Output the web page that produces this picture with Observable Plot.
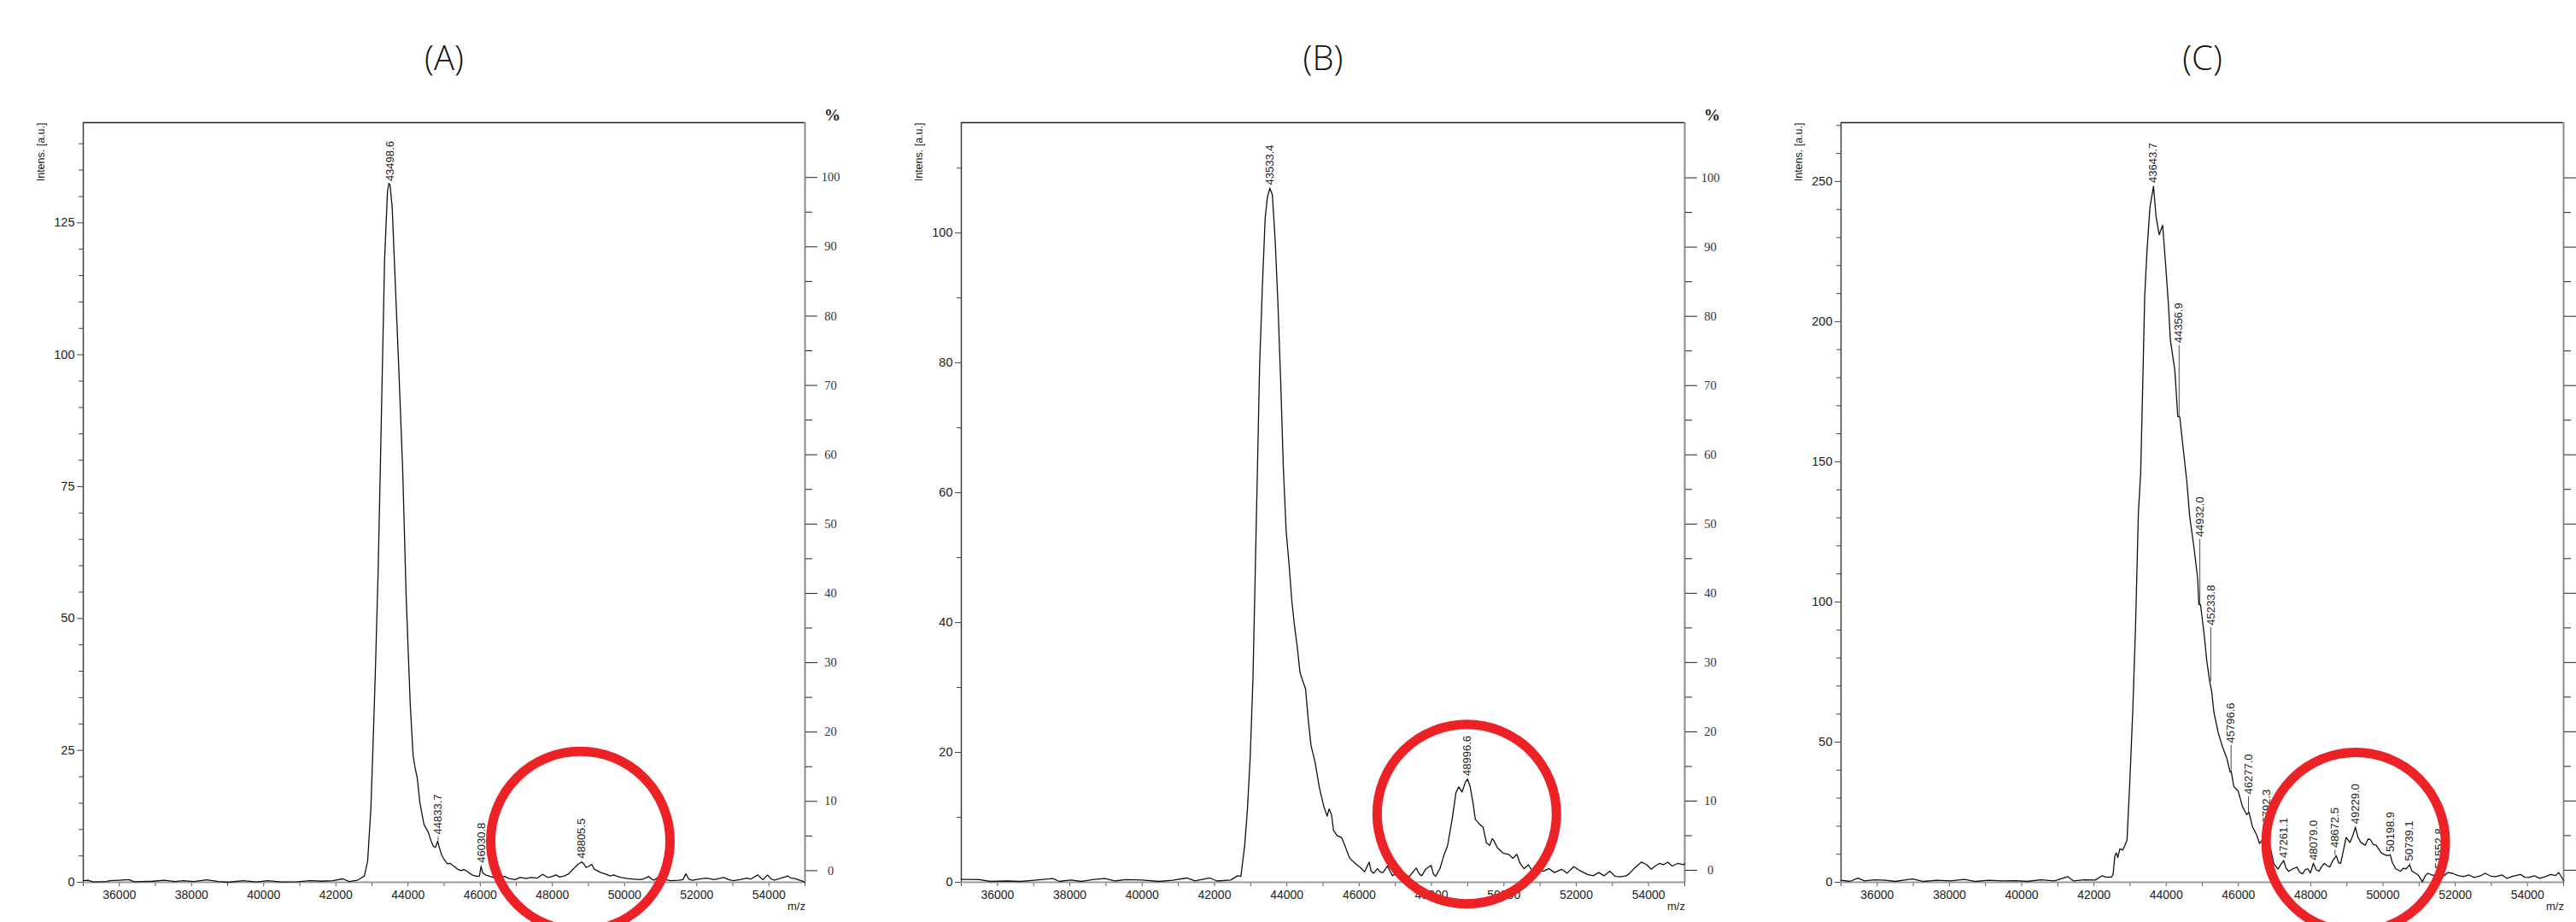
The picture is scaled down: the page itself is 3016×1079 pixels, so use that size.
<!DOCTYPE html>
<html><head><meta charset="utf-8">
<script src="https://cdn.jsdelivr.net/npm/d3@7"></script>
<script src="https://cdn.jsdelivr.net/npm/@observablehq/plot@0.6"></script>
<style>
html,body{margin:0;padding:0;background:#fff}
body{width:3016px;height:1079px;overflow:hidden;position:relative}
.panel{position:absolute;top:0}
</style></head><body>
<div id="pA" class="panel" style="left:0px"></div>
<div id="pB" class="panel" style="left:1030px"></div>
<div id="pC" class="panel" style="left:2060px"></div>
<script>
// ---------- shared text / ticks ----------
const panelTitles = ["(A)", "(B)", "(C)"];
const yAxisLabel = "Intens. [a.u.]";
const xAxisLabel = "m/z";
const pctSymbol = "%";
const xDomain = [35000, 55000];
const xTicks = d3.range(35000, 55001, 1000);
const pctMajor = [0, 10, 20, 30, 40, 50, 60, 70, 80, 90, 100];
const pctMinor = [5, 15, 25, 35, 45, 55, 65, 75, 85, 95];

// ---------- panel A ----------
const mzA = [35000,35125,35275,35650,35730,36000,36260,36410,36630,36940,37240,37540,37770,38070,38420,38750,39020,39430,39800,40110,40480,40935,41280,41620,41920,42190,42370,42600,42700,42790,42880,42970,43030,43090,43170,43230,43275,43350,43430,43470,43500,43560,43650,43740,43850,43950,44060,44140,44200,44250,44330,44440,44560,44630,44700,44760,44820,44870,44936,45000,45087,45160,45240,45390,45470,45540,45616,45766,45917,45980,46023,46070,46143,46370,46550,46670,46800,46970,47100,47270,47400,47580,47730,47880,48000,48100,48200,48330,48450,48560,48710,48810,48870,48935,49000,49090,49160,49240,49350,49460,49600,49700,49770,49900,50070,50250,50450,50580,50670,50750,50820,50900,51000,51120,51280,51500,51620,51700,51780,51880,52050,52260,52480,52620,52750,52880,53010,53200,53390,53500,53690,53780,53840,53960,54050,54140,54300,54440,54520,54600,54720,54850,54900,55000];
const intA = [0.3,0.4,0.05,0.15,0.3,0.4,0.5,0.1,0.15,0.2,0.4,0.15,0.3,0.15,0.45,0.15,0,0.3,0.05,0.3,0.05,0.1,0.3,0.2,0.3,0.65,0.15,0.4,0.8,1.2,4,14,26,39,58.6,78,93,118,131,132.5,132.2,128,113,98,78.5,53.7,33.8,24,21.5,20,15,11,9.5,8,6.8,6.6,7.8,6.5,5.1,4.3,3.5,3.6,3.2,2.4,2.2,2.4,2.2,1.4,1.1,1.2,3.0,1.8,1.4,0.9,1.0,1.1,0.7,0.5,0.9,0.7,0.9,0.8,1.5,0.9,1.1,1.4,1.0,1.2,1.6,2.4,3.4,3.8,3.5,2.8,3.0,3.4,2.5,2.2,1.8,1.6,1.2,1.4,1.2,0.9,0.7,0.6,0.5,0.8,1.1,0.6,0.4,0.8,1.1,0.5,0.3,0.4,0.5,1.6,0.6,0.4,0.6,0.8,0.5,0.7,0.9,0.5,0.3,0.5,0.8,0.6,1.4,0.8,0.5,1.4,0.7,0.4,0.7,1.0,1.2,0.8,0.7,0.4,0.3,0];
const peakTextA = ["43498.6", "44833.7", "46030.8", "48805.5"];
const peakLabelYA = [132.4, 8.6, 3.2, 4.0];
const peakPointYA = [132.4, 7.8, 3.0, 3.8];
const yMaxA = 144, yMajorA = [0, 25, 50, 75, 100, 125], yMinorStepA = 5;
const pctRangeA = [2.2, 133.6];
const circleA = [{mz: 48775, v: 7.8}];

// ---------- panel B ----------
const mzB = [35000,35040,35500,35800,36260,36640,37020,37530,37710,38020,38320,38630,38970,39240,39550,40000,40460,40850,41230,41460,41870,42070,42450,42640,42730,42835,42911,42988,43064,43125,43187,43248,43324,43401,43462,43530,43599,43676,43752,43829,43905,43982,44058,44135,44211,44287,44364,44440,44517,44593,44670,44777,44899,45021,45113,45170,45235,45290,45388,45511,45602,45709,45740,45890,46045,46150,46275,46330,46400,46505,46580,46658,46780,46920,47000,47116,47200,47270,47391,47575,47660,47730,47835,47988,48050,48110,48232,48339,48446,48569,48676,48752,48844,48936,48997,49073,49150,49211,49333,49425,49517,49608,49680,49716,49823,49976,50128,50251,50358,50450,50557,50679,50786,50939,51092,51245,51398,51596,51749,51933,52116,52315,52468,52621,52774,52927,53080,53230,53385,53462,53615,53800,53951,54075,54180,54300,54410,54532,54654,54807,54960,55000];
const intB = [0.45,0.45,0.4,0.13,0.2,0.13,0.3,0.57,0.13,0.35,0.13,0.4,0.57,0.2,0.4,0.35,0.13,0.3,0.66,0.2,0.66,0.2,0.35,1.0,0.9,5.7,11.3,19.4,31.5,47.5,63.6,79.7,91.8,102.3,105.5,106.9,105.9,99,89.4,77.3,63.6,54,49.2,43.5,39.5,36.3,32.3,31,29.8,25,21,18.6,14.6,11.7,10.2,11.3,10.4,8,7.2,6.9,5.7,4.1,3.7,2.9,2.2,1.6,3.1,1.7,1.4,2.1,1.6,1.5,2.5,1.0,1.3,1.6,1.2,1.1,0.9,2.2,1.3,1.0,2.0,2.6,1.3,0.9,2.1,4.1,5.7,9.7,13.8,14.7,13.9,15.4,15.9,14.6,12.1,9.7,8.9,8.5,6.1,5.7,6.7,6.5,5.3,4.5,4.3,3.7,4.3,2.9,2.1,2.7,1.7,2.1,1.7,2.1,1.5,2.0,1.4,2.4,1.75,1.2,1.0,1.5,1.0,1.7,0.9,0.83,1.0,1.3,2.2,3.1,2.7,2.0,2.5,2.9,2.7,3.1,2.5,2.9,2.7,2.85];
const peakTextB = ["43533.4", "48996.6"];
const peakLabelYB = [107.0, 16.0];
const peakPointYB = [107.0, 16.0];
const yMaxB = 117, yMajorB = [0, 20, 40, 60, 80, 100], yMinorStepB = 10;
const pctRangeB = [1.84, 108.5];
const circleB = [{mz: 48974, v: 10.5}];

// ---------- panel C ----------
const mzC = [35000,35245,35470,35650,35925,36225,36500,36755,36980,37280,37660,38040,38415,38720,39095,39470,39850,40150,40530,40905,41280,41430,41735,42040,42220,42350,42490,42530,42580,42620,42660,42718,42800,42860,42915,42990,43073,43151,43230,43294,43349,43405,43467,43550,43649,43720,43807,43902,43980,44058,44115,44240,44320,44375,44477,44572,44650,44768,44872,44903,44950,45045,45124,45203,45260,45321,45439,45557,45676,45770,45800,45873,45991,46109,46228,46290,46386,46504,46583,46701,46780,46859,46977,47096,47180,47253,47320,47394,47500,47620,47700,47772,47850,47923,47990,48074,48150,48225,48300,48376,48450,48526,48600,48707,48770,48828,48900,48979,49085,49160,49236,49310,49387,49508,49590,49658,49730,49810,49960,50111,50200,50260,50353,50489,50560,50640,50740,50800,50866,50980,51092,51180,51243,51394,51550,51696,51800,51922,52080,52224,52380,52526,52700,52828,52980,53130,53300,53432,53600,53809,53920,54035,54200,54337,54500,54639,54780,54865,55000];
const intC = [0.7,0.3,1.5,0.5,0.9,0.7,0.3,0.8,1.2,0.3,0.7,0.5,1.0,0.3,0.7,0.5,0.6,0.3,0.9,0.5,2.0,0.5,0.9,0.8,2.3,1.8,1.9,2.8,9.5,10.5,8.8,11.9,11.5,13.2,15,35,60.6,91,131.7,146,176.5,209,225,240.7,248.3,237.4,231,234.4,221,206.9,193.6,182.5,166.2,166,154,142.9,130.5,119.5,108.3,99.1,99,89,78.9,71.7,68,60.6,53.4,48.4,44.3,39.3,39.5,34.1,32.6,27.1,24.1,25,19.9,16.9,13.8,15.8,16.5,13.8,6.7,4.7,6.5,7.7,5,3.9,4.8,5.4,3.5,3.0,4.5,4.8,3.3,6.7,4.5,3.9,5.5,6.7,6.0,5.4,7.5,9.5,7.0,6.7,11,16,14.2,16.5,19.6,16,14.2,13.2,15.5,15.1,13.5,13.2,10.4,9.5,9.8,7.0,4.8,3.9,5.0,4.8,6.2,4.0,3.5,2.5,0.2,2.5,3.2,2.4,3.5,2.4,3.5,3.2,2.4,2.0,2.6,1.7,2.3,3.2,2.2,2.0,2.6,1.4,2.2,2.8,1.8,1.7,2.3,1.4,2.0,2.8,2.4,3.5,0.6];
const peakTextC = ["43643.7", "44356.9", "44932.0", "45233.8", "45796.6", "46277.0", "46792.3", "47261.1", "48079.0", "48672.5", "49229.0", "50198.9", "50739.1", "51552.8"];
const peakLabelYC = [248.6, 191.5, 122.3, 90.8, 48.8, 30.5, 17.9, 7.8, 6.9, 11.4, 19.9, 9.9, 6.7, 4.0];
const peakPointYC = [248.6, 166.1, 99.0, 71.5, 39.4, 24.5, 16.0, 7.7, 6.5, 9.5, 19.6, 9.6, 6.2, 3.5];
const yMaxC = 271, yMajorC = [0, 50, 100, 150, 200, 250], yMinorStepC = 10;
const pctRangeC = [4.3, 251.3];
const circleC = [{mz: 49245, v: 14.3}];

// ---------- builder ----------
function buildPanel(cfg) {
  const series = cfg.mz.map((m, i) => ({mz: m, v: cfg.int[i]}));
  const labels = cfg.peakText.map((t, i) => ({mz: +t, text: t, ly: cfg.labelY[i], py: cfg.pointY[i]}));
  const leaders = labels.filter(d => d.ly - d.py > 0.05);
  const pctVal = p => cfg.pct[0] + p / 100 * (cfg.pct[1] - cfg.pct[0]);
  const pctLabels = new Map(pctMajor.map(p => [pctVal(p), String(p)]));
  const yMinor = d3.range(0, cfg.yMax, cfg.yMinorStep).filter(v => !cfg.yMajor.includes(v));
  const marks = [
    // frame
    Plot.ruleY([cfg.yMax], {stroke: "#222", strokeWidth: 1.6}),
    Plot.ruleX([xDomain[0]], {stroke: "#333", strokeWidth: 1.4}),
    Plot.ruleX([xDomain[1]], {stroke: "#8a8a8a", strokeWidth: 2}),
    // x axis
    Plot.axisX({ticks: xTicks, tickSize: 5, tickPadding: 5, stroke: "#555",
      tickFormat: d => d % 2000 === 0 ? String(d) : "", label: null, fontSize: 14, fill: "#222"}),
    // left y axis
    Plot.axisY({ticks: yMinor, tickSize: 5, tickFormat: () => "", label: null, stroke: "#444"}),
    Plot.axisY({ticks: cfg.yMajor, tickSize: 7, tickPadding: 3, label: null, fontSize: 14.5, fill: "#222", stroke: "#444"}),
    // right percent axis
    Plot.axisY({anchor: "right", ticks: pctMinor.map(pctVal), tickSize: 8, tickFormat: () => "", label: null, stroke: "#222"}),
    Plot.axisY({anchor: "right", ticks: pctMajor.map(pctVal), tickSize: 14, tickPadding: 16, textAnchor: "middle",
      tickFormat: v => cfg.showPct ? pctLabels.get(v) : "", label: null, stroke: "#222",
      fontFamily: "Liberation Serif, serif", fontSize: 14.5, fill: "#333"}),
    Plot.ruleY([0], {stroke: "#9a9a9a", strokeWidth: 2.2}),
    // spectrum
    Plot.line(series, {x: "mz", y: "v", stroke: "#111", strokeWidth: 1.3}),
    // peak labels
    Plot.ruleX(leaders, {x: "mz", y1: "py", y2: "ly", stroke: "#333", strokeWidth: 0.9}),
    Plot.text(labels, {x: "mz", y: "ly", text: "text", rotate: -90, textAnchor: "start", lineAnchor: "middle",
      dy: -3, fontSize: 13, fill: "#222"}),
    // axis titles
    Plot.text([yAxisLabel], {frameAnchor: "top-left", rotate: -90, textAnchor: "end", lineAnchor: "middle",
      dx: -50, fontSize: 12.5, fill: "#222"}),
    Plot.text([xAxisLabel], {frameAnchor: "bottom-right", dx: -10, dy: 28, lineAnchor: "middle", textAnchor: "middle",
      fontSize: 13, fill: "#222"}),
    // panel title
    Plot.text([cfg.title], {frameAnchor: "top", dy: -74, lineAnchor: "middle", fontSize: 40,
      fontFamily: "Open Sans, Noto Sans, sans-serif", fontWeight: 300, fill: "#111"}),
    // highlight circle
    Plot.dot(cfg.circle, {x: "mz", y: "v", r: 105, stroke: "#ec2227", strokeWidth: 11, fill: "none"})
  ];
  if (cfg.showPct) {
    marks.push(Plot.text([pctSymbol], {frameAnchor: "top-right", dx: 32, dy: -9, lineAnchor: "middle", textAnchor: "middle",
      fontSize: 19, fontWeight: "bold", fontFamily: "Liberation Serif, serif", fill: "#222"}));
  }
  return Plot.plot({
    width: cfg.width, height: 1079,
    marginLeft: cfg.ml, marginRight: cfg.mr, marginTop: 143, marginBottom: 47,
    x: {domain: xDomain},
    y: {domain: [0, cfg.yMax]},
    style: {fontFamily: "Liberation Sans, Arial, sans-serif", fontSize: "14px", background: "white", color: "#222"},
    marks
  });
}

document.getElementById("pA").append(buildPanel({title: panelTitles[0], mz: mzA, int: intA, peakText: peakTextA,
  labelY: peakLabelYA, pointY: peakPointYA, yMax: yMaxA, yMajor: yMajorA, yMinorStep: yMinorStepA, pct: pctRangeA,
  circle: circleA, width: 1030, ml: 97, mr: 88, showPct: true}));
document.getElementById("pB").append(buildPanel({title: panelTitles[1], mz: mzB, int: intB, peakText: peakTextB,
  labelY: peakLabelYB, pointY: peakPointYB, yMax: yMaxB, yMajor: yMajorB, yMinorStep: yMinorStepB, pct: pctRangeB,
  circle: circleB, width: 1030, ml: 95, mr: 88, showPct: true}));
document.getElementById("pC").append(buildPanel({title: panelTitles[2], mz: mzC, int: intC, peakText: peakTextC,
  labelY: peakLabelYC, pointY: peakPointYC, yMax: yMaxC, yMajor: yMajorC, yMinorStep: yMinorStepC, pct: pctRangeC,
  circle: circleC, width: 956, ml: 95, mr: 15, showPct: false}));
</script>
</body></html>
